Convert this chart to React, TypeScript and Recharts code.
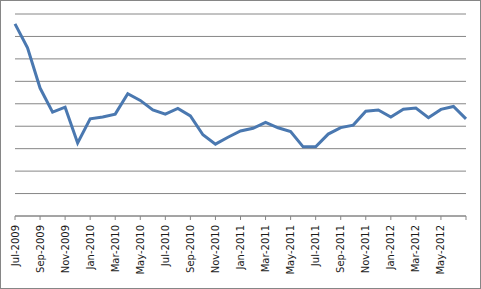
import React from 'react';
import { LineChart, Line, XAxis, YAxis, CartesianGrid } from 'recharts';

const months = [
  'Jul-2009', 'Aug-2009', 'Sep-2009', 'Oct-2009', 'Nov-2009', 'Dec-2009',
  'Jan-2010', 'Feb-2010', 'Mar-2010', 'Apr-2010', 'May-2010', 'Jun-2010',
  'Jul-2010', 'Aug-2010', 'Sep-2010', 'Oct-2010', 'Nov-2010', 'Dec-2010',
  'Jan-2011', 'Feb-2011', 'Mar-2011', 'Apr-2011', 'May-2011', 'Jun-2011',
  'Jul-2011', 'Aug-2011', 'Sep-2011', 'Oct-2011', 'Nov-2011', 'Dec-2011',
  'Jan-2012', 'Feb-2012', 'Mar-2012', 'Apr-2012', 'May-2012', 'Jun-2012',
  'Jul-2012',
];

const values = [
  8.56, 7.49, 5.7, 4.63, 4.85, 3.25,
  4.33, 4.41, 4.54, 5.45, 5.15, 4.73,
  4.54, 4.79, 4.46, 3.62, 3.2, 3.51,
  3.79, 3.91, 4.17, 3.93, 3.76, 3.08,
  3.08, 3.65, 3.94, 4.05, 4.67, 4.72,
  4.41, 4.76, 4.81, 4.38, 4.75, 4.88,
  4.33,
];

const yTicks = [0, 1, 2, 3, 4, 5, 6, 7, 8, 9];
const xTicks = months.filter((_, i) => i % 2 === 0);
const hiddenLabels = ['Jul-2012'];

const data = months.map((m, i) => ({ month: m, value: values[i] }));

const MonthTick = (props: any) => {
  const { x, y, payload } = props;
  if (hiddenLabels.includes(payload.value)) return <g />;
  return (
    <g transform={`translate(${x},${y})`}>
      <text
        transform="rotate(-90)"
        x={-3}
        dy="0.35em"
        textAnchor="end"
        fontSize={10}
        fontFamily="DejaVu Sans, Verdana, sans-serif"
        fill="#1a1a1a"
      >
        {payload.value}
      </text>
    </g>
  );
};

const App: React.FC = () => {
  return (
    <div style={{ position: 'relative', width: 481, height: 289, background: '#fff' }}>
      <style>{`body{margin:0}`}</style>
      <LineChart
        width={481}
        height={289}
        data={data}
        margin={{ top: 14, right: 15, left: 15, bottom: 0 }}
      >
        <CartesianGrid horizontal vertical={false} stroke="#868686" strokeOpacity={1} />
        <XAxis
          dataKey="month"
          ticks={xTicks}
          interval={0}
          height={73}
          tickSize={4}
          tick={<MonthTick />}
          axisLine={{ stroke: '#868686' }}
          tickLine={{ stroke: '#868686' }}
        />
        <YAxis hide domain={[0, 9]} ticks={yTicks} interval={0} />
        <Line
          type="linear"
          dataKey="value"
          stroke="#4a78b0"
          strokeWidth={3}
          dot={false}
          isAnimationActive={false}
        />
      </LineChart>
      <div
        style={{
          position: 'absolute',
          left: 0,
          top: 0,
          width: 481,
          height: 289,
          boxSizing: 'border-box',
          border: '1px solid #868686',
          pointerEvents: 'none',
        }}
      />
    </div>
  );
};

export default App;
